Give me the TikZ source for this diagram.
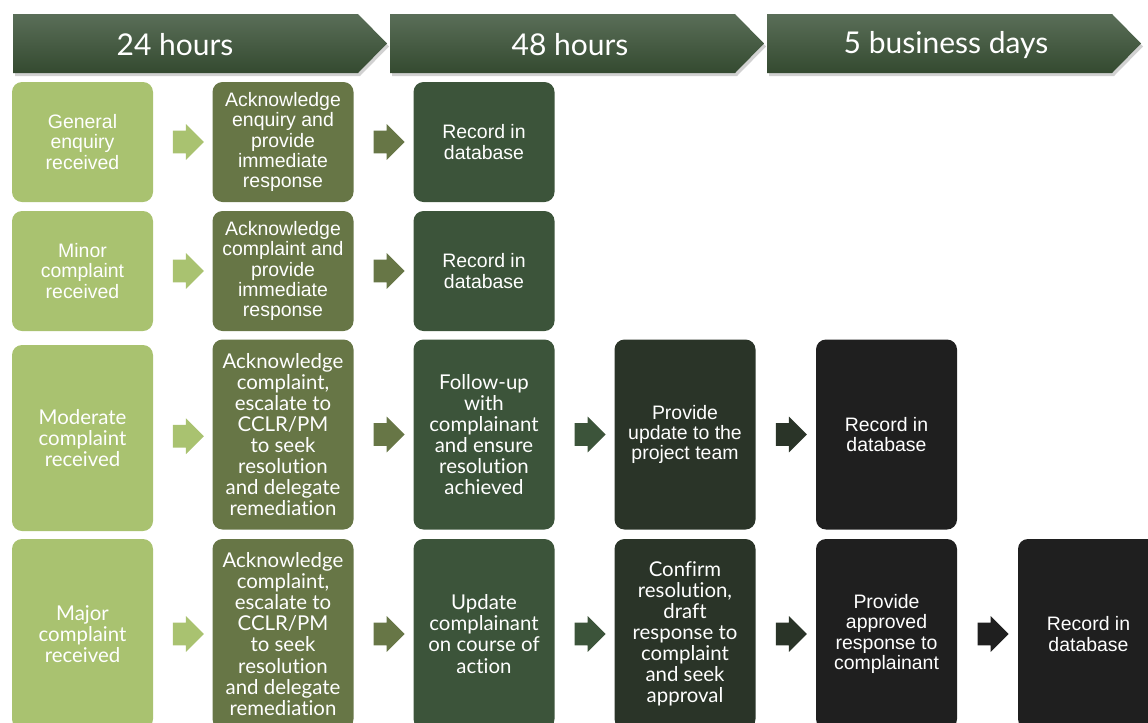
\documentclass[tikz,border=0pt]{standalone}
\usepackage{fontspec}
\setmainfont{Liberation Sans}
\newfontfamily\geofont[Ligatures={NoCommon}]{Lato}
\usetikzlibrary{shapes.arrows}
\definecolor{stageA}{RGB}{169,194,112}
\definecolor{stageB}{RGB}{103,118,70}
\definecolor{stageC}{RGB}{60,84,58}
\definecolor{stageD}{RGB}{42,52,40}
\definecolor{stageE}{RGB}{31,31,31}
\definecolor{bannerTop}{RGB}{90,110,88}
\definecolor{bannerBot}{RGB}{52,74,48}

\begin{document}
\begin{tikzpicture}[x=0.75pt,y=0.75pt,yscale=-1,xscale=1,
  stepbox/.style={rounded corners=7.5pt, minimum width=105.75pt, inner sep=0pt, align=center, text=white, font=\fontsize{14.6}{15.2}\selectfont},
  shortbox/.style={stepbox, minimum height=90pt},
  tallbox/.style={stepbox, minimum height=142.5pt},
  geo/.style={font=\geofont\fontsize{15.3}{15.8}\selectfont},
  blockarrow/.style={single arrow, single arrow head extend=5pt, inner xsep=0pt, inner ysep=8.25pt, minimum height=23.25pt, draw=none},
  banner/.style={top color=bannerTop, bottom color=bannerBot, draw=none}
]
\useasboundingbox (0,0) rectangle (1148,722);

%Banners
\fill [black, opacity=0.18] (15,17) -- (360,17) -- (389,46.5) -- (360,76) -- (15,76) -- cycle ;
\fill [black, opacity=0.18] (392,17) -- (737,17) -- (766,46.5) -- (737,76) -- (392,76) -- cycle ;
\fill [black, opacity=0.18] (769,17) -- (1114,17) -- (1143,46.5) -- (1114,76) -- (769,76) -- cycle ;
\path [banner] (13,14) -- (358,14) -- (387,43.5) -- (358,73) -- (13,73) -- cycle ;
\path [banner] (390,14) -- (735,14) -- (764,43.5) -- (735,73) -- (390,73) -- cycle ;
\path [banner] (767,14) -- (1112,14) -- (1141,43.5) -- (1112,73) -- (767,73) -- cycle ;
% Text Node
\draw (175,45) node [text=white, font=\geofont\fontsize{22.5}{26}\selectfont] (day1) {24 hours};
% Text Node
\draw (570,45) node [text=white, font=\geofont\fontsize{22.5}{26}\selectfont] (day2) {48 hours};
% Text Node
\draw (946,45) node [text=white, font=\geofont\fontsize{22.5}{26}\selectfont] (day5) {5 business days};

%General enquiry
\draw (82.5,142) node [shortbox, fill=stageA] (enqIn) {General\\enquiry\\received};
\draw (283,142) node [shortbox, fill=stageB] (enqAck) {Acknowledge\\enquiry and\\provide\\immediate\\response};
\draw (484,142) node [shortbox, fill=stageC] (enqRec) {Record in\\database};

%Minor complaint
\draw (82.5,271) node [shortbox, fill=stageA] (minIn) {Minor\\complaint\\received};
\draw (283,271) node [shortbox, fill=stageB] (minAck) {Acknowledge\\complaint and\\provide\\immediate\\response};
\draw (484,271) node [shortbox, fill=stageC] (minRec) {Record in\\database};

%Moderate complaint
\draw (82.5,438) node [tallbox, geo, minimum height=139.5pt, fill=stageA] (modIn) {Moderate\\complaint\\received};
\draw (283,434.5) node [tallbox, geo, fill=stageB] (modAck) {Acknowledge\\complaint,\\escalate to\\CCLR/PM\\to seek\\resolution\\and delegate\\remediation};
\draw (484,434.5) node [tallbox, geo, fill=stageC] (modFol) {Follow-up\\with\\complainant\\and ensure\\resolution\\achieved};
\draw (685,434.5) node [tallbox, fill=stageD] (modUpd) {Provide\\update to the\\project team};
\draw (886.5,434.5) node [tallbox, fill=stageE] (modRec) {Record in\\database};

%Major complaint
\draw (82.5,634) node [tallbox, geo, fill=stageA] (majIn) {Major\\complaint\\received};
\draw (283,634) node [tallbox, geo, fill=stageB] (majAck) {Acknowledge\\complaint,\\escalate to\\CCLR/PM\\to seek\\resolution\\and delegate\\remediation};
\draw (484,634) node [tallbox, geo, fill=stageC] (majUpd) {Update\\complainant\\on course of\\action};
\draw (685,634) node [tallbox, geo, fill=stageD] (majCon) {Confirm\\resolution,\\draft\\response to\\complaint\\and seek\\approval};
\draw (886.5,634) node [tallbox, fill=stageE] (majRes) {Provide\\approved\\response to\\complainant};
\draw (1088.5,634) node [tallbox, fill=stageE] (majRec) {Record in\\database};

%Block arrows
\path (enqIn) -- (enqAck) node [midway, blockarrow, fill=stageA] (a11) {};
\path (enqAck) -- (enqRec) node [midway, blockarrow, fill=stageB] (a12) {};
\path (minIn) -- (minAck) node [midway, blockarrow, fill=stageA] (a21) {};
\path (minAck) -- (minRec) node [midway, blockarrow, fill=stageB] (a22) {};
\path (modIn) -- (modAck) node [midway, blockarrow, fill=stageA] (a31) {};
\path (modAck) -- (modFol) node [midway, blockarrow, fill=stageB] (a32) {};
\path (modFol) -- (modUpd) node [midway, blockarrow, fill=stageC] (a33) {};
\path (modUpd) -- (modRec) node [midway, blockarrow, fill=stageD] (a34) {};
\path (majIn) -- (majAck) node [midway, blockarrow, fill=stageA] (a41) {};
\path (majAck) -- (majUpd) node [midway, blockarrow, fill=stageB] (a42) {};
\path (majUpd) -- (majCon) node [midway, blockarrow, fill=stageC] (a43) {};
\path (majCon) -- (majRes) node [midway, blockarrow, fill=stageD] (a44) {};
\path (majRes) -- (majRec) node [midway, blockarrow, fill=stageE] (a45) {};

\end{tikzpicture}
\end{document}
